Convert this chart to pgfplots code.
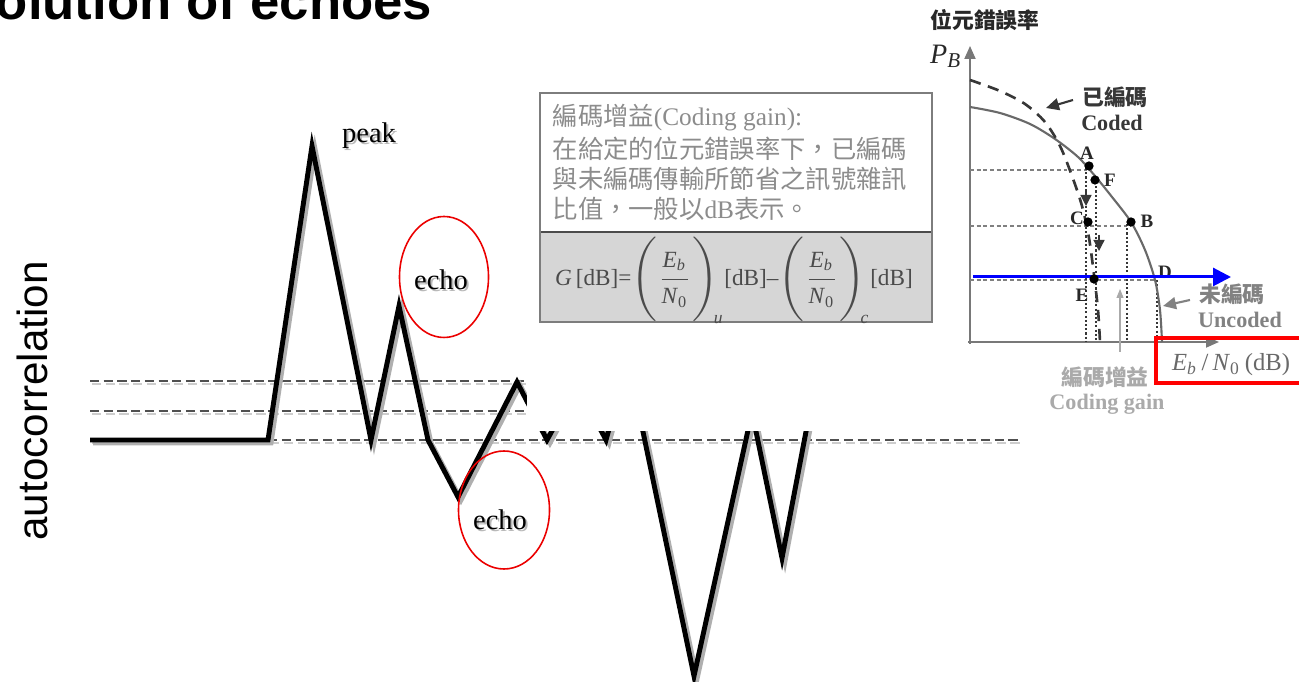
\documentclass[border=0pt]{standalone}
\usepackage{pgfplots}
\pgfplotsset{compat=1.18}
\usepackage{pgfplotstable}
\usepackage{fontspec}
\usetikzlibrary{arrows.meta}
\setmainfont{Liberation Serif}
\newfontfamily\arial{Liberation Sans}
\newfontfamily\cjk{Noto Sans CJK TC}

\definecolor{boxtext}{RGB}{140,140,140}
\definecolor{formulatext}{RGB}{75,75,75}
\definecolor{boxfill}{RGB}{214,214,214}
\definecolor{boxline}{RGB}{125,125,125}
\definecolor{dashdark}{RGB}{80,80,80}
\definecolor{dashshadow}{RGB}{205,205,205}
\definecolor{sigshadow}{RGB}{175,175,175}
\definecolor{echored}{RGB}{235,0,0}
\definecolor{axisgray}{RGB}{120,120,120}
\definecolor{curvegray}{RGB}{105,105,105}
\definecolor{codeddark}{RGB}{55,55,55}
\definecolor{labeldark}{RGB}{40,40,40}
\definecolor{gainlight}{RGB}{170,170,170}
\definecolor{uncodedlbl}{RGB}{130,130,130}

% italic quantity with a subscript, set in the text font
\newcommand{\qty}[2]{\mbox{\textit{#1}\textsubscript{\textit{#2}}}}
\newcommand{\ebno}{\displaystyle\frac{\qty{E}{b}}{\mbox{\textit{N}\textsubscript{0}}}}

% autocorrelation trace (x, y in picture units, y downwards)
\pgfplotstableread{
x y
90 440
268 440
312 146
371 440
399 306
428 440
458 497
517 382
547 440
577 385
606 440
628 360
694 676
752 412
782 558
812 400
}\signal

% bit error rate curves
\pgfplotstableread{
x y
970 107
1000 113
1030 124
1055 139
1078 157
1095 176
1112 197
1131 222
1145 250
1155 280
1160 310
1162 342
}\uncoded

\pgfplotstableread{
x y
970 80
1000 91
1025 104
1045 122
1060 146
1072 176
1082 206
1089 238
1094 275
1098 310
1100 342
}\coded

\begin{document}
\begin{tikzpicture}
\begin{axis}[
  width=129.9mm, height=68.2mm, scale only axis,
  xmin=0, xmax=1299, ymin=0, ymax=682, y dir=reverse,
  hide axis, clip=true,
]

% threshold lines with their soft shadows
\addplot[dashshadow, line width=0.45pt, dash pattern=on 2.6pt off 1.3pt,
  transform canvas={xshift=0.2mm, yshift=-0.3mm}] coordinates {(90,381) (527,381)};
\addplot[dashshadow, line width=0.45pt, dash pattern=on 2.6pt off 1.3pt,
  transform canvas={xshift=0.2mm, yshift=-0.3mm}] coordinates {(90,411) (527,411)};
\addplot[dashshadow, line width=0.45pt, dash pattern=on 2.6pt off 1.3pt,
  transform canvas={xshift=0.2mm, yshift=-0.3mm}] coordinates {(90,440) (1020,440)};
\addplot[dashdark, line width=0.4pt, dash pattern=on 2.6pt off 1.3pt] coordinates {(90,381) (527,381)};
\addplot[dashdark, line width=0.4pt, dash pattern=on 2.6pt off 1.3pt] coordinates {(90,411) (527,411)};
\addplot[dashdark, line width=0.4pt, dash pattern=on 2.6pt off 1.3pt] coordinates {(90,440) (1020,440)};

% the trace and its shadow
\addplot[sigshadow, line width=1.4pt, line join=miter,
  transform canvas={xshift=0.3mm, yshift=-0.3mm}] table[x=x, y=y] {\signal};
\addplot[black, line width=1.4pt, line join=miter] table[x=x, y=y] {\signal};

% pasted panel background
\fill[white] (axis cs:527,-10) rectangle (axis cs:1310,431);

% title and y label
\node[anchor=base east, font=\arial\bfseries\fontsize{15}{18}\selectfont, inner sep=0]
  at (axis cs:433,20) {olution of echoes};
\node[rotate=90, font=\arial\fontsize{12}{14}\selectfont, inner sep=0]
  at (axis cs:32,401) {autocorrelation};

% peak / echo annotations
\node[anchor=base, text=gray!55, font=\fontsize{8.1}{9}\selectfont, inner sep=0] at (axis cs:371,145) {peak};
\node[anchor=base, font=\fontsize{8.1}{9}\selectfont, inner sep=0] at (axis cs:369,143) {peak};
\node[anchor=base, text=gray!55, font=\fontsize{8.1}{9}\selectfont, inner sep=0] at (axis cs:443,292) {echo};
\node[anchor=base, font=\fontsize{8.1}{9}\selectfont, inner sep=0] at (axis cs:441,290) {echo};
\node[anchor=base, text=gray!55, font=\fontsize{8.1}{9}\selectfont, inner sep=0] at (axis cs:502,532) {echo};
\node[anchor=base, font=\fontsize{8.1}{9}\selectfont, inner sep=0] at (axis cs:500,530) {echo};
\draw[echored, line width=0.45pt] (axis cs:444,277) ellipse [x radius=4.45mm, y radius=6.05mm];
\draw[echored, line width=0.45pt] (axis cs:504,510) ellipse [x radius=4.55mm, y radius=5.9mm];

% coding gain definition box
\fill[white] (axis cs:540,93) rectangle (axis cs:932,232);
\fill[boxfill] (axis cs:540,232) rectangle (axis cs:932,322);
\draw[formulatext, line width=0.6pt] (axis cs:540,232) -- (axis cs:932,232);
\draw[boxline, line width=0.6pt] (axis cs:540,93) rectangle (axis cs:932,322);
\begin{scope}[every node/.style={anchor=west, text=boxtext, inner sep=0,
    font=\fontsize{7.2}{8}\selectfont}]
\node at (axis cs:552,118) {{\cjk 編碼增益}(Coding gain):};
\node at (axis cs:552,149) {\cjk 在給定的位元錯誤率下，已編碼};
\node at (axis cs:552,179) {\cjk 與未編碼傳輸所節省之訊號雜訊};
\node at (axis cs:552,209) {{\cjk 比值，一般以}dB{\cjk 表示。}};
\end{scope}
\node[text=formulatext, inner sep=0, font=\fontsize{6.6}{7.5}\selectfont] at (axis cs:734,279)
  {\textit{G}\,[dB]=$\biggl(\ebno\biggr)_{\!\mbox{\tiny\textit{u}}}$[dB]--$\biggl(\ebno\biggr)_{\!\mbox{\tiny\textit{c}}}$[dB]};

% bit error rate sketch
\node[text=labeldark, font=\cjk\bfseries\fontsize{6.2}{7}\selectfont, inner sep=0] at (axis cs:985,20) {位元錯誤率};
\node[text=labeldark, font=\fontsize{8}{9}\selectfont, inner sep=0] at (axis cs:946,56) {\qty{P}{B}};
\addplot[axisgray, line width=0.55pt, -{Triangle[length=1.3mm, width=1.1mm]}] coordinates {(970,344) (970,46)};
\addplot[axisgray, line width=0.55pt, -{Triangle[length=1.3mm, width=1.1mm]}] coordinates {(968,342) (1219,342)};

% guide lines
\addplot[gray, line width=0.35pt, dash pattern=on 1.1pt off 0.8pt] coordinates {(970,170) (1087,170)};
\addplot[gray, line width=0.35pt, dash pattern=on 1.1pt off 0.8pt] coordinates {(970,226) (1131,226)};
\addplot[gray, line width=0.35pt, dash pattern=on 1.1pt off 0.8pt] coordinates {(970,280) (1155,280)};
\addplot[codeddark, line width=0.35pt, dash pattern=on 0.6pt off 0.6pt] coordinates {(1086,168) (1086,342)};
\addplot[codeddark, line width=0.35pt, dash pattern=on 0.6pt off 0.6pt] coordinates {(1096,182) (1096,342)};
\addplot[codeddark, line width=0.35pt, dash pattern=on 0.6pt off 0.6pt] coordinates {(1127,224) (1127,342)};
\addplot[codeddark, line width=0.35pt, dash pattern=on 0.6pt off 0.6pt] coordinates {(1157,280) (1157,342)};
\addplot[codeddark, line width=0.35pt, -{Triangle[length=1.1mm, width=1.1mm]}] coordinates {(1086,190) (1086,206)};
\addplot[codeddark, line width=0.35pt, -{Triangle[length=1.1mm, width=1.1mm]}] coordinates {(1099,235) (1099,251)};
\addplot[gainlight, line width=0.3pt, -{Triangle[length=0.9mm, width=0.7mm]}] coordinates {(1120,352) (1120,289)};

% curves
\addplot[curvegray, line width=0.6pt, smooth] table[x=x, y=y] {\uncoded};
\addplot[codeddark, line width=0.75pt, smooth, dash pattern=on 3.2pt off 2.2pt] table[x=x, y=y] {\coded};
\addplot[only marks, mark=*, mark size=1.1pt, black] coordinates {(1089,166) (1095,180) (1088,222) (1131,222) (1094,279)};

% point labels
\begin{scope}[every node/.style={text=labeldark, inner sep=0, font=\bfseries\fontsize{5.4}{6}\selectfont}]
\node at (axis cs:1087,153) {A};
\node at (axis cs:1110,180) {F};
\node at (axis cs:1077,218) {C};
\node at (axis cs:1147,221) {B};
\node at (axis cs:1165,272) {D};
\node at (axis cs:1082,295) {E};
\end{scope}

% curve names
\addplot[codeddark, line width=0.6pt, -{Triangle[length=1.3mm, width=1.2mm]}] coordinates {(1073,100) (1046,108)};
\node[text=codeddark, inner sep=0, font=\cjk\bfseries\fontsize{6.2}{7}\selectfont] at (axis cs:1115,97) {已編碼};
\node[text=codeddark, inner sep=0, font=\bfseries\fontsize{6.3}{7}\selectfont] at (axis cs:1112,123) {Coded};
\addplot[uncodedlbl, line width=0.6pt, -{Triangle[length=1.3mm, width=1.2mm]}] coordinates {(1190,300) (1163,306)};
\node[text=uncodedlbl, inner sep=0, font=\cjk\bfseries\fontsize{6.2}{7}\selectfont] at (axis cs:1232,294) {未編碼};
\node[text=uncodedlbl, inner sep=0, font=\bfseries\fontsize{6.3}{7}\selectfont] at (axis cs:1240,320) {Uncoded};
\node[text=gainlight, inner sep=0, font=\cjk\bfseries\fontsize{6.2}{7}\selectfont] at (axis cs:1105,377) {編碼增益};
\node[text=gainlight, inner sep=0, font=\bfseries\fontsize{6.3}{7}\selectfont] at (axis cs:1107,404) {Coding gain};
\node[text=curvegray, inner sep=0, font=\fontsize{7}{8}\selectfont] at (axis cs:1231,365)
  {\qty{E}{b}\,/\,\mbox{\textit{N}\textsubscript{0}}\,(dB)};

% highlights
\addplot[blue, line width=0.85pt, -{Triangle[length=1.8mm, width=1.8mm]}] coordinates {(973,277) (1231,277)};
\draw[red, line width=0.9pt] (axis cs:1156,338) rectangle (axis cs:1320,383);

\end{axis}
\pgfresetboundingbox
\path[use as bounding box] (current axis.south west) rectangle (current axis.north east);
\end{tikzpicture}
\end{document}
